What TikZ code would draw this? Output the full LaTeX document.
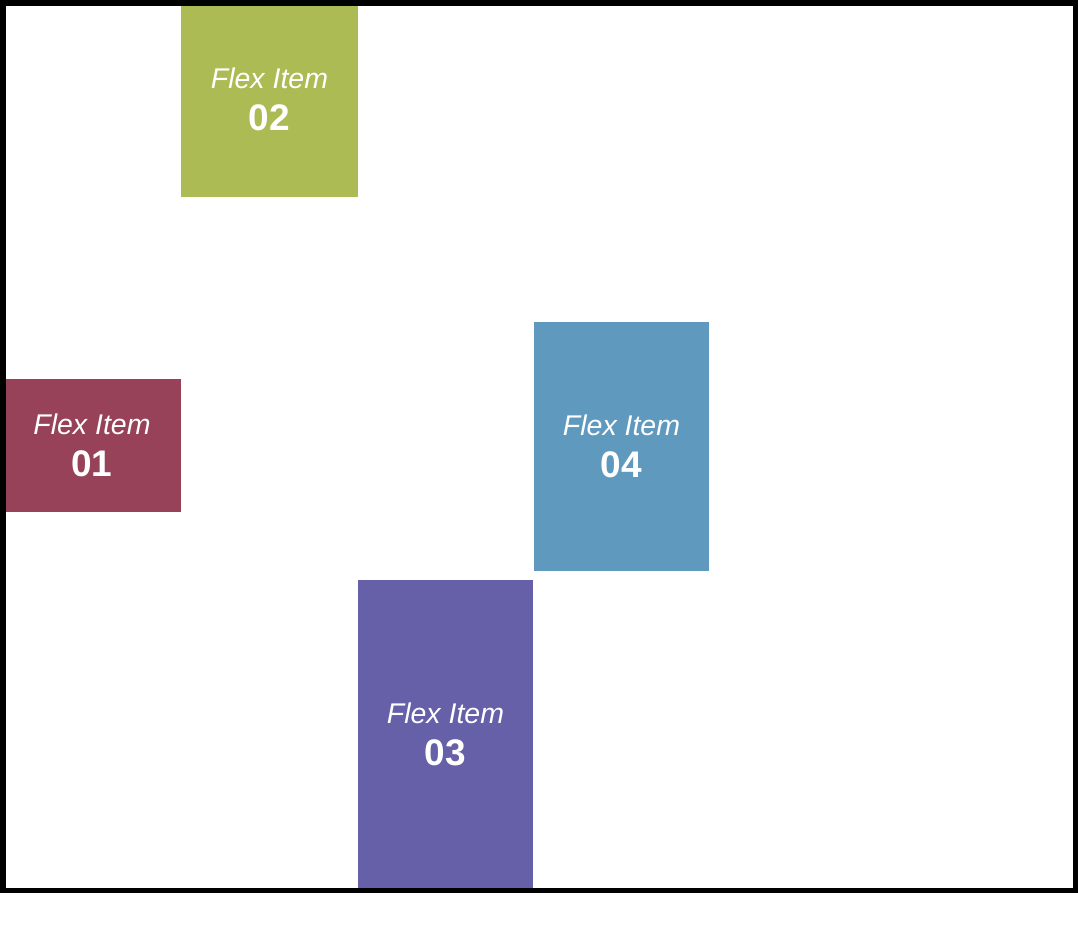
\documentclass[tikz,border=0pt]{standalone}
\usepackage{fontspec}
\setmainfont{Liberation Sans}
\definecolor{cgreen}{HTML}{ADBB55}
\definecolor{cmaroon}{HTML}{974259}
\definecolor{cpurple}{HTML}{6560A8}
\definecolor{cblue}{HTML}{6099BE}
\begin{document}
\begin{tikzpicture}[x=1pt,y=-1pt,
  item/.style={rectangle, inner sep=0pt, outer sep=0pt, text=white, align=center, anchor=north west,
    font=\fontsize{28.5}{42}\selectfont},
]
\useasboundingbox (0,0) rectangle (1078,951);
\fill[white] (0,0) rectangle (1078,951);
\newcommand{\itemtext}[1]{{\itshape Flex Item}\\{\fontsize{37}{42}\selectfont\bfseries #1}}
\node[item, fill=cgreen, minimum width=177pt, minimum height=195pt] (i2) at (181,2) {\itemtext{02}};
\node[item, fill=cmaroon, minimum width=178pt, minimum height=133pt] (i1) at (3,379) {\itemtext{01}};
\node[item, fill=cblue, minimum width=175pt, minimum height=249pt] (i4) at (534,322) {\itemtext{04}};
\node[item, fill=cpurple, minimum width=175pt, minimum height=309pt] (i3) at (358,580) {\itemtext{03}};
\draw[line width=5.5pt] (2.75,2.75) rectangle (1075.25,890.25);
\end{tikzpicture}
\end{document}
